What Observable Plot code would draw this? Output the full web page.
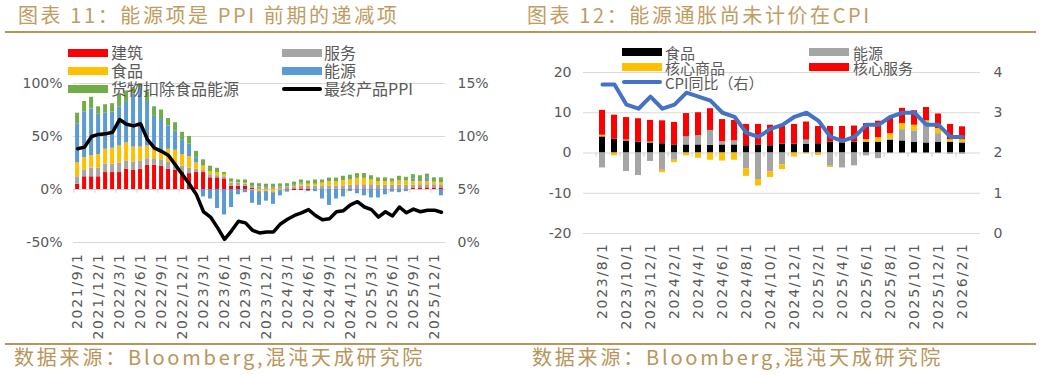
<!DOCTYPE html>
<html><head><meta charset="utf-8">
<script src="https://cdn.jsdelivr.net/npm/d3@7"></script>
<script src="https://cdn.jsdelivr.net/npm/@observablehq/plot@0.6"></script>
<style>
body{margin:0;background:#fff;}
#page{position:relative;width:1041px;height:375px;overflow:hidden;font-family:"Noto Sans CJK SC",sans-serif;background:#fff;}
.abs{position:absolute;white-space:nowrap;}
.title{font-size:20px;color:#c09c62;letter-spacing:2.6px;line-height:20px;}
.foot{font-size:20px;color:#b8955a;letter-spacing:2.8px;line-height:20px;}
.leg{font-size:16px;color:#595959;line-height:16px;}
.leg2{font-size:15px;color:#595959;line-height:15px;}
.hr{position:absolute;height:1.5px;background:#b8955a;}
.chart{position:absolute;}
g[aria-label="x-axis tick label"]{letter-spacing:1.7px;}
</style></head>
<body><div id="page"></div>
<script>
// ---------- Left chart data (图表 11) ----------
const ppiCats = ["2021/9/1","2021/10/1","2021/11/1","2021/12/1",
"2022/1/1","2022/2/1","2022/3/1","2022/4/1","2022/5/1","2022/6/1","2022/7/1","2022/8/1","2022/9/1","2022/10/1","2022/11/1","2022/12/1",
"2023/1/1","2023/2/1","2023/3/1","2023/4/1","2023/5/1","2023/6/1","2023/7/1","2023/8/1","2023/9/1","2023/10/1","2023/11/1","2023/12/1",
"2024/1/1","2024/2/1","2024/3/1","2024/4/1","2024/5/1","2024/6/1","2024/7/1","2024/8/1","2024/9/1","2024/10/1","2024/11/1","2024/12/1",
"2025/1/1","2025/2/1","2025/3/1","2025/4/1","2025/5/1","2025/6/1","2025/7/1","2025/8/1","2025/9/1","2025/10/1","2025/11/1","2025/12/1",
"2026/1/1"];
const ppiTicks = ["2021/9/1","2021/12/1","2022/3/1","2022/6/1","2022/9/1","2022/12/1","2023/3/1","2023/6/1","2023/9/1","2023/12/1","2024/3/1","2024/6/1","2024/9/1","2024/12/1","2025/3/1","2025/6/1","2025/9/1","2025/12/1"];
const ppiSeries = ["建筑","服务","食品","能源","货物扣除食品能源"];
const ppiColors = ["#ff0000","#a5a5a5","#ffc000","#5b9bd5","#70ad47"];
const construction = [5,12,12,12,16,16,16,19,18,19,23,23,22,19,18,16,15,16,16,11,11,10,3,3,3,1,0.5,0,0,0.3,-0.5,-1,-1,-1,0,0,0.3,0.3,0.5,0.5,0.5,0.5,0.5,0.5,0.5,0.5,0.5,0.5,1,1.5,1.5,1.5,1.5];
const services = [7,6,8,8,8,8,9,8,8,8,6,6,6,7,6,6,5,3,2,3,2,2,3,3,2,2,2,2,2,2,2,2,3,3,3,3,3,3,3,3.5,4,4,4,3.5,3.5,3.5,3.5,3.5,3,3,3,3,3];
const food = [13,12,12,13,14,15,16,17,14,13,12,11,9,12,13,11,11,6,4,3,3,2,1,0.5,1,-1,-2,-2,-3,-1,0.5,1,2,2,2,3,4,4,5,5,6,6,4.5,3.5,3.5,3,4,4,3.5,3,3,2,2];
const energy = [37,43,44,38,34,34,37,39,50,56,42,29,29,22,18,14,12,5,-7,-9,-18,-24,-17,-5,-3,-12,-13,-9,-11,-5,-2,1,1,-1,-2,-9,-15,-9,-7,-2,-4,-6,-8,-8,-5,-2.5,-3,-2,2.5,1,3,0.5,-6];
const coreGoods = [10,10,11,7,8,8,12,10,6,4,9,9,9,7,8,7,7,6,6,5,4,2,3,2.5,3,3,3,3,3,3,3,3,3,3,4,3,3.5,3.5,4,4.5,4.5,4.5,4,3.5,3.5,3,4.5,3.5,4,4.5,4,4,4.5];
const ppiFinal = [8.85,9.0,10.0,10.2,10.25,10.4,11.6,11.15,11.0,11.2,9.7,8.9,8.6,8.2,7.3,6.4,5.5,4.5,2.9,2.4,1.4,0.3,1.1,2.0,1.85,1.15,0.9,1.0,1.0,1.75,2.2,2.55,2.8,3.1,2.55,2.15,2.25,2.9,3.0,3.55,3.85,3.35,3.1,2.4,2.9,2.5,3.35,2.8,3.15,2.9,3.05,3.05,2.85];
const leftTicksY = [-50,0,50,100];

// ---------- Right chart data (图表 12) ----------
const cpiCats = ["2023/8/1","2023/9/1","2023/10/1","2023/11/1","2023/12/1",
"2024/1/1","2024/2/1","2024/3/1","2024/4/1","2024/5/1","2024/6/1","2024/7/1","2024/8/1","2024/9/1","2024/10/1","2024/11/1","2024/12/1",
"2025/1/1","2025/2/1","2025/3/1","2025/4/1","2025/5/1","2025/6/1","2025/7/1","2025/8/1","2025/9/1","2025/10/1","2025/11/1","2025/12/1",
"2026/1/1","2026/2/1"];
const cpiTicks = ["2023/8/1","2023/10/1","2023/12/1","2024/2/1","2024/4/1","2024/6/1","2024/8/1","2024/10/1","2024/12/1","2025/2/1","2025/4/1","2025/6/1","2025/8/1","2025/10/1","2025/12/1","2026/2/1"];
const cpiSeries = ["食品","能源","核心商品","核心服务"];
const cpiColors = ["#000000","#a5a5a5","#ffc000","#ff0000"];
const cpiFood = [4.0,3.4,3.0,2.7,2.5,2.3,2.0,2.0,2.0,1.9,2.0,2.0,1.8,2.0,1.8,2.2,2.2,2.2,2.3,2.7,2.5,2.7,2.7,2.7,3.2,3.0,2.7,2.5,2.7,2.7,2.5];
const cpiEnergy = [-3.7,0,-4.6,-5.6,-2.1,-4.3,-1.8,2.0,2.3,3.7,0.8,1.0,-3.9,-6.6,-4.7,-2.9,0,1.0,0,-3.3,-3.7,-3.2,-0.7,-1.4,0.2,2.8,2.8,5.2,2.1,-0.3,-0.3];
const cpiGoods = [0.4,-0.7,0.2,0,0.2,-0.6,-0.6,-0.7,-1.3,-1.8,-2.0,-1.8,-1.9,-1.6,-1.4,-1.2,-1.0,-0.2,-0.6,-0.3,0,0,0.6,1.1,1.4,1.5,1.4,0.3,1.3,0.6,0.8];
const cpiServices = [6.2,6.0,5.6,5.8,5.4,5.7,5.6,5.8,5.7,5.4,5.5,5.1,5.3,5.1,5.1,4.4,4.9,4.5,4.3,3.9,4.1,4.0,4.0,4.1,4.0,3.8,3.6,3.3,3.6,3.8,3.2];
const cpiYoY = [3.7,3.7,3.2,3.1,3.4,3.1,3.2,3.5,3.4,3.3,3.0,2.9,2.5,2.4,2.6,2.7,2.9,3.0,2.8,2.4,2.3,2.4,2.7,2.7,2.9,3.0,3.0,2.7,2.7,2.4,2.4];
const rightTicksY = [-20,-10,0,10,20];

// ---------- build ----------
const page = document.getElementById("page");
function add(html){ page.insertAdjacentHTML("beforeend", html); }

const ppiVals = [construction, services, food, energy, coreGoods];
const ppiRows = [];
ppiSeries.forEach((s, k) => ppiCats.forEach((c, i) => ppiRows.push({date: c, series: s, value: ppiVals[k][i]})));
const ppiLineRows = ppiCats.map((c, i) => ({date: c, v: ppiFinal[i]}));

const cpiVals = [cpiFood, cpiEnergy, cpiGoods, cpiServices];
const cpiRows = [];
cpiSeries.forEach((s, k) => cpiCats.forEach((c, i) => cpiRows.push({date: c, series: s, value: cpiVals[k][i]})));
const cpiLineRows = cpiCats.map((c, i) => ({date: c, v: cpiYoY[i]}));

const axisStyle = {fontFamily: "DejaVu Sans", fontSize: "14px", color: "#595959", background: "transparent", overflow: "visible"};

// Left chart
{
  const W = 520, H = 300, mL = 73, mR = 75, mT = 43, mB = 98;
  const pI = 0.43, pO = 0.3;
  const step = (W - mL - mR) / (ppiCats.length - pI + 2 * pO);
  const chart = Plot.plot({
    width: W, height: H, marginLeft: mL, marginRight: mR, marginTop: mT, marginBottom: mB,
    style: axisStyle,
    x: {type: "band", domain: ppiCats, paddingInner: pI, paddingOuter: pO},
    y: {domain: [-50, 100]},
    color: {domain: ppiSeries, range: ppiColors},
    marks: [
      Plot.ruleY(leftTicksY, {stroke: "#d9d9d9", strokeWidth: 1}),
      Plot.ruleX(ppiTicks, {x: d => d, y1: 0, y2: -3.5, dx: -step / 2, stroke: "#d0d0d0"}),
      Plot.barY(ppiRows, {x: "date", y: "value", fill: "series", order: ppiSeries}),
      Plot.lineY(ppiLineRows, {x: "date", y: d => d.v * 10 - 50, stroke: "#000", strokeWidth: 3.5, strokeLinejoin: "round"}),
      Plot.axisX({ticks: ppiTicks, tickRotate: -90, tickSize: 0, tickPadding: 10, label: null}),
      Plot.axisY({anchor: "left", ticks: leftTicksY, tickFormat: d => d + "%", tickSize: 0, tickPadding: 11, label: null}),
      Plot.axisY({anchor: "right", ticks: leftTicksY, tickFormat: d => ((d + 50) / 10) + "%", tickSize: 0, tickPadding: 12, label: null})
    ]
  });
  chart.classList.add("chart");
  chart.style.left = "0px"; chart.style.top = "40px";
  page.appendChild(chart);
}

// Right chart
{
  const W = 521, H = 300, mL = 63, mR = 61, mT = 32, mB = 107;
  const pI = 0.53, pO = 0.31;
  const step = (W - mL - mR) / (cpiCats.length - pI + 2 * pO);
  const chart = Plot.plot({
    width: W, height: H, marginLeft: mL, marginRight: mR, marginTop: mT, marginBottom: mB,
    style: axisStyle,
    x: {type: "band", domain: cpiCats, paddingInner: pI, paddingOuter: pO},
    y: {domain: [-20, 20]},
    color: {domain: cpiSeries, range: cpiColors},
    marks: [
      Plot.ruleY(rightTicksY, {stroke: "#d9d9d9", strokeWidth: 1}),
      Plot.ruleX(cpiTicks, {x: d => d, y1: 0, y2: -1, dx: -step / 2, stroke: "#d0d0d0"}),
      Plot.barY(cpiRows, {x: "date", y: "value", fill: "series", order: cpiSeries}),
      Plot.lineY(cpiLineRows, {x: "date", y: d => d.v * 10 - 20, stroke: "#4472c4", strokeWidth: 4, strokeLinejoin: "round"}),
      Plot.axisX({ticks: cpiTicks, tickRotate: -90, tickSize: 0, tickPadding: 9, label: null}),
      Plot.axisY({anchor: "left", ticks: rightTicksY, tickFormat: d => String(d), tickSize: 0, tickPadding: 12, label: null}),
      Plot.axisY({anchor: "right", ticks: rightTicksY, tickFormat: d => String((d + 20) / 10), tickSize: 0, tickPadding: 13, label: null})
    ]
  });
  chart.classList.add("chart");
  chart.style.left = "520px"; chart.style.top = "40px";
  page.appendChild(chart);
}

// Titles, rules, footers
add(`<div class="abs title" style="left:18px;top:5px;">图表 11：能源项是 PPI 前期的递减项</div>`);
add(`<div class="abs title" style="left:527px;top:5px;">图表 12：能源通胀尚未计价在CPI</div>`);
add(`<div class="hr" style="left:5px;width:1031px;top:31px;"></div>`);
add(`<div class="hr" style="left:5px;width:1031px;top:343px;"></div>`);
add(`<div class="abs foot" style="left:14px;top:347px;">数据来源：Bloomberg,混沌天成研究院</div>`);
add(`<div class="abs foot" style="left:532px;top:347px;">数据来源：Bloomberg,混沌天成研究院</div>`);

// Legends
function legItem(x, y, w, h, color, label, tx, round, cls){
  const c = cls || "leg";
  const half = c === "leg" ? 9 : 7.5;
  add(`<div class="abs" style="left:${x}px;top:${y - h/2}px;width:${w}px;height:${h}px;background:${color};${round ? "border-radius:" + h/2 + "px;" : ""}"></div>`);
  add(`<div class="abs ${c}" style="left:${tx}px;top:${y - half}px;">${label}</div>`);
}
legItem(68, 53, 40, 8, ppiColors[0], ppiSeries[0], 111);
legItem(68, 71, 40, 8, ppiColors[2], ppiSeries[2], 111);
legItem(68, 89, 40, 8, ppiColors[4], ppiSeries[4], 111);
legItem(282, 53, 40, 8, ppiColors[1], ppiSeries[1], 324);
legItem(282, 71, 40, 8, ppiColors[3], ppiSeries[3], 324);
legItem(282, 89, 40, 4, "#000", "最终产品PPI", 324, true);

legItem(622, 52, 40, 8, cpiColors[0], cpiSeries[0], 665, false, "leg2");
legItem(622, 67, 40, 8, cpiColors[2], cpiSeries[2], 665, false, "leg2");
legItem(622, 82, 40, 4, "#4472c4", "CPI同比（右）", 665, true, "leg2");
legItem(809, 52, 40, 8, cpiColors[1], cpiSeries[1], 853, false, "leg2");
legItem(809, 67, 40, 8, cpiColors[3], cpiSeries[3], 853, false, "leg2");
</script>
</body></html>
